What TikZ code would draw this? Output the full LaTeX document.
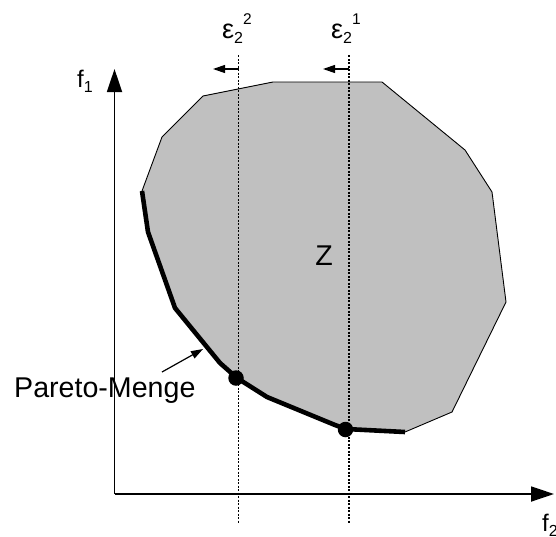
\documentclass[tikz,border=0pt]{standalone}
\usepackage{fontspec}
\setmainfont{Liberation Sans}
\usetikzlibrary{arrows.meta}
\definecolor{zgrey}{RGB}{192,192,192}
\tikzset{
  axis/.style={line width=1.8pt,-{Triangle[length=23pt,width=15pt]}},
  bigtxt/.style={font=\fontsize{28.6}{30}\selectfont,inner sep=0pt},
  midtxt/.style={font=\fontsize{24}{26}\selectfont,inner sep=0pt},
  epstxt/.style={inner sep=0pt},
  dotline/.style={line width=1.2pt,dash pattern=on 2pt off 1.5pt},
  epsarrow/.style={line width=1.2pt,-{Triangle[length=12pt,width=8pt]}},
  pareto/.style={line width=4.6pt,line join=round},
  ptdot/.style={circle,fill=black,inner sep=0pt,minimum size=15.5pt},
}
\newcommand{\epslabel}[1]{{\fontsize{27}{27}\selectfont ε}\raisebox{-5pt}{\fontsize{16}{16}\selectfont 2}\raisebox{14pt}{\fontsize{15.5}{15.5}\selectfont #1}}
\begin{document}
\begin{tikzpicture}[x=1pt,y=-1pt]
\useasboundingbox (0,0) rectangle (556,536);
% region Z
\filldraw[fill=zgrey,draw=black,line width=0.9pt,line join=round]
 (142,191) -- (162,137) -- (203,96) -- (273,82) -- (382,82) -- (465,150) -- (492,192)
 -- (506,302) -- (452,412) -- (405,432) -- (346,429) -- (335,425) -- (267,397)
 -- (237,378) -- (220,363) -- (175,308) -- (148,232) -- cycle;
% pareto front
\draw[pareto] (142,191) -- (148,232) -- (175,308) -- (220,363) -- (237,378) -- (267,397) -- (335,425) -- (346,429) -- (405,432);
% axes
\coordinate (O) at (114.5,494);
\coordinate (ytip) at (114.5,69);
\coordinate (xtip) at (554,494);
\draw[axis] (O) -- (ytip);
\draw[axis] (O) -- (xtip);
\node[midtxt,anchor=base west] (f1) at (77,87) {f\raisebox{-5pt}{\fontsize{16}{16}\selectfont 1}};
\node[midtxt,anchor=base west] (f2) at (542,531) {f\raisebox{-5pt}{\fontsize{16}{16}\selectfont 2}};
% epsilon constraints
\coordinate (e2top) at (238.5,55);
\coordinate (e2bot) at (238.5,523);
\coordinate (e1top) at (349,55);
\coordinate (e1bot) at (349,523);
\draw[dotline] (e2top) -- (e2bot);
\draw[dotline] (e1top) -- (e1bot);
\coordinate (e2a) at (238.5,69);
\coordinate (e2b) at (213,69);
\coordinate (e1a) at (349,69);
\coordinate (e1b) at (323,69);
\draw[epsarrow] (e2a) -- (e2b);
\draw[epsarrow] (e1a) -- (e1b);
\node[epstxt,anchor=base west] (eps2) at (222,38) {\epslabel{2}};
\node[epstxt,anchor=base west] (eps1) at (331,38) {\epslabel{1}};
% points
\node[ptdot] (p1) at (236,378) {};
\node[ptdot] (p2) at (345.5,429.5) {};
% labels
\node[bigtxt] (Z) at (324,256) {Z};
\node[bigtxt,anchor=base west] (pm) at (14,397) {Pareto-Menge};
\coordinate (pmarr) at (203,349);
\draw[line width=1.2pt,-{Triangle[length=12pt,width=8pt]}] (162,372) -- (pmarr);
\end{tikzpicture}
\end{document}
